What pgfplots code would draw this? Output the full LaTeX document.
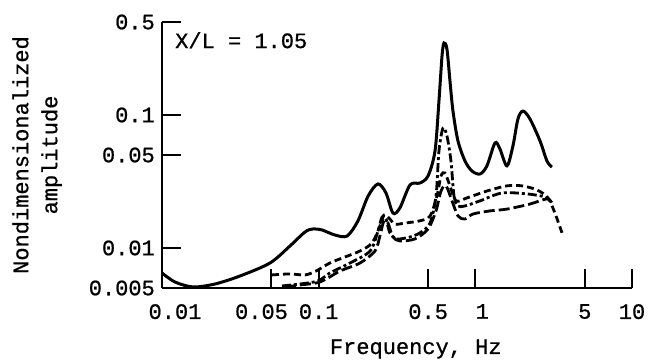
\documentclass[border=0pt]{standalone}
\usepackage{fontspec}
\setmainfont{Liberation Mono}[FakeBold=0.8]
\usepackage{pgfplots}
\pgfplotsset{compat=1.18}
\begin{document}
\begin{tikzpicture}
\begin{axis}[
  scale only axis, width=470bp, height=266bp,
  xmode=log, ymode=log,
  xmin=0.01, xmax=10, ymin=0.005, ymax=0.5,
  axis lines=left, axis line style={-, line width=2bp},
  tick align=inside, major tick length=19bp,
  every tick/.style={black, line width=2bp},
  minor xtick={}, minor ytick={},
  xtick={0.01,0.05,0.1,0.5,1,5,10},
  xticklabels={\hspace*{26bp}0.01, 0.05\hspace*{20bp}, 0.1, 0.5, \hspace*{14bp}1, 5, 10},
  ytick={0.005,0.01,0.05,0.1,0.5},
  yticklabels={0.005,0.01,0.05,0.1,0.5},
  font=\fontsize{22bp}{29bp}\selectfont,
  xticklabel style={anchor=north, inner sep=0pt, yshift=-16bp},
  yticklabel style={anchor=east, inner sep=0pt, xshift=-7bp},
  xlabel={Frequency, Hz},
  xlabel style={at={(axis description cs:0.540,-0.248)}, anchor=base, inner sep=0pt},
  ylabel={Nondimensionalized\\amplitude},
  ylabel style={at={(axis description cs:-0.2128,0.5)}, anchor=south, align=center, inner sep=0pt},
  clip=false,
]
% solid
\addplot[black, line width=3bp, smooth, tension=0.5] coordinates {
(0.01,0.00649)(0.0121,0.00555)(0.0158,0.00509)(0.0218,0.00536)(0.0315,0.00616)
(0.0489,0.00771)(0.0656,0.01035)(0.0818,0.01319)(0.092,0.0139)(0.105,0.01366)
(0.127,0.01252)(0.152,0.0123)(0.178,0.01596)(0.207,0.0246)(0.239,0.0303)
(0.269,0.0259)(0.298,0.0183)(0.330,0.0200)(0.383,0.0298)(0.443,0.0308)
(0.499,0.0348)(0.553,0.0536)(0.586,0.1275)(0.613,0.278)(0.631,0.348)
(0.659,0.313)(0.689,0.180)(0.720,0.107)(0.775,0.0638)(0.859,0.0451)
(0.952,0.0379)(1.071,0.036)(1.186,0.0414)(1.335,0.0616)(1.436,0.0555)
(1.592,0.0414)(1.738,0.0585)(1.871,0.0933)(2.014,0.107)(2.233,0.0933)
(2.588,0.0638)(2.866,0.0451)(3.083,0.0406)
};
% short dashed
\addplot[black, line width=2.8bp, smooth, tension=0.5, dash pattern=on 7bp off 4bp] coordinates {
(0.0504,0.00627)(0.0656,0.00638)(0.0818,0.00627)(0.0962,0.00671)(0.118,0.00771)
(0.147,0.00855)(0.1835,0.00949)(0.219,0.0109)(0.246,0.0146)(0.261,0.0177)
(0.281,0.0168)(0.307,0.0151)(0.356,0.0154)(0.443,0.0160)(0.514,0.0174)
(0.569,0.0246)(0.604,0.0348)(0.640,0.0366)(0.689,0.0293)(0.753,0.0226)
(0.885,0.0238)(1.186,0.0268)(1.592,0.0293)(1.986,0.0293)(2.475,0.0273)
(2.910,0.0238)(3.222,0.0183)(3.574,0.0130)
};
% dash-dot
\addplot[black, line width=2.8bp, smooth, tension=0.5, dash pattern=on 9bp off 3bp on 3bp off 3bp] coordinates {
(0.0583,0.00518)(0.0760,0.00536)(0.0990,0.00565)(0.118,0.00649)(0.1585,0.00771)
(0.213,0.00949)(0.239,0.0134)(0.254,0.0171)(0.269,0.0165)(0.285,0.0130)
(0.316,0.0117)(0.383,0.0121)(0.443,0.0130)(0.514,0.0154)(0.561,0.0246)
(0.586,0.0536)(0.622,0.0798)(0.659,0.0695)(0.699,0.0451)(0.731,0.0246)
(0.775,0.0207)(0.859,0.0207)(1.071,0.0226)(1.479,0.0259)(2.138,0.0255)
(2.784,0.0242)(2.998,0.0226)
};
% long dash
\addplot[black, line width=2.8bp, smooth, tension=0.5, dash pattern=on 11bp off 4bp] coordinates {
(0.0610,0.00509)(0.0760,0.00527)(0.1020,0.00555)(0.137,0.00671)(0.1835,0.00771)
(0.229,0.00949)(0.246,0.0123)(0.261,0.0160)(0.277,0.0154)(0.298,0.0121)
(0.330,0.0113)(0.412,0.0117)(0.499,0.0139)(0.561,0.0190)(0.604,0.0268)
(0.650,0.0293)(0.710,0.0226)(0.775,0.0174)(0.859,0.0165)(0.966,0.0180)
(1.241,0.0190)(1.592,0.0196)(2.233,0.0214)(2.866,0.0234)(3.083,0.0218)
};
\node[anchor=base west, inner sep=0pt] at (rel axis cs:0.0277,0.902) {X/L = 1.05};
\end{axis}
\path (current axis.south west) ++(-162bp,-76bp) coordinate (bl);
\path (current axis.north east) ++(18bp,22bp) coordinate (tr);
\path (bl) rectangle (tr);
\end{tikzpicture}
\end{document}
